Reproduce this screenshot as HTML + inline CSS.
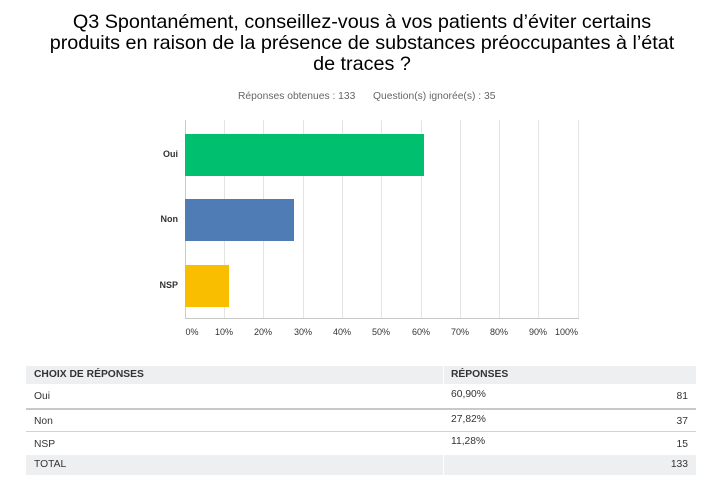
<!DOCTYPE html>
<html><head><meta charset="utf-8">
<style>
html,body{margin:0;padding:0;background:#fff;}
body{width:717px;height:487px;position:relative;overflow:hidden;font-family:"Liberation Sans",Arial,sans-serif;color:#333;}
.a{position:absolute;white-space:nowrap;}
.title{position:absolute;left:0;width:724px;top:12px;text-align:center;font-size:19.8px;line-height:21px;color:#000;}
.sub{font-size:10.3px;color:#666;top:91px;}
.grid{position:absolute;top:120px;width:1px;height:199px;background:#e3e3e3;}
.tick{position:absolute;top:327px;font-size:9px;color:#333;width:40px;text-align:center;}
.cat{position:absolute;font-size:9px;font-weight:bold;color:#333;width:40px;text-align:right;left:138px;}
.bar{position:absolute;left:185px;height:42px;}
.tt{position:absolute;font-size:10.3px;color:#333;}
</style></head><body>
<div class="title">Q3 Spontanément, conseillez-vous à vos patients d’éviter certains<br>produits en raison de la présence de substances préoccupantes à l’état<br>de traces ?</div>
<div class="a sub" style="left:238px;">Réponses obtenues : 133</div>
<div class="a sub" style="left:373px;">Question(s) ignorée(s) : 35</div>

<div class="grid" style="left:185px;background:#ccc"></div>
<div class="grid" style="left:224px"></div>
<div class="grid" style="left:263px"></div>
<div class="grid" style="left:303px"></div>
<div class="grid" style="left:342px"></div>
<div class="grid" style="left:381px"></div>
<div class="grid" style="left:421px"></div>
<div class="grid" style="left:460px"></div>
<div class="grid" style="left:499px"></div>
<div class="grid" style="left:538px"></div>
<div class="grid" style="left:578px"></div>
<div style="position:absolute;left:185px;top:318px;width:394px;height:1px;background:#c8c8c8"></div>

<div class="bar" style="top:134px;width:239px;background:#00bf6f"></div>
<div class="bar" style="top:199px;width:109px;background:#507cb6"></div>
<div class="bar" style="top:265px;width:44px;background:#f9be00"></div>

<div class="cat" style="top:149px">Oui</div>
<div class="cat" style="top:214px">Non</div>
<div class="cat" style="top:280px">NSP</div>

<div class="tick" style="left:172px">0%</div>
<div class="tick" style="left:204px">10%</div>
<div class="tick" style="left:243px">20%</div>
<div class="tick" style="left:283px">30%</div>
<div class="tick" style="left:322px">40%</div>
<div class="tick" style="left:361px">50%</div>
<div class="tick" style="left:401px">60%</div>
<div class="tick" style="left:440px">70%</div>
<div class="tick" style="left:479px">80%</div>
<div class="tick" style="left:518px">90%</div>
<div class="tick" style="left:538px;text-align:right">100%</div>

<!-- table -->
<div style="position:absolute;left:26px;top:366px;width:670px;height:18px;background:#eeeff0"></div>
<div style="position:absolute;left:443px;top:366px;width:1px;height:18px;background:#fff"></div>
<div style="position:absolute;left:26px;top:408px;width:670px;height:2px;background:#c9c9c9"></div>
<div style="position:absolute;left:26px;top:431px;width:670px;height:1px;background:#d2d2d2"></div>
<div style="position:absolute;left:26px;top:455px;width:670px;height:20px;background:#eeeff0"></div>
<div style="position:absolute;left:443px;top:455px;width:1px;height:20px;background:#fff"></div>

<div class="tt" style="left:34px;top:369px;font-weight:bold;">CHOIX DE RÉPONSES</div>
<div class="tt" style="left:451px;top:369px;font-weight:bold;">RÉPONSES</div>

<div class="tt" style="left:34px;top:391px;">Oui</div>
<div class="tt" style="left:451px;top:389px;">60,90%</div>
<div class="tt" style="left:600px;width:88px;text-align:right;top:391px;">81</div>

<div class="tt" style="left:34px;top:416px;">Non</div>
<div class="tt" style="left:451px;top:414px;">27,82%</div>
<div class="tt" style="left:600px;width:88px;text-align:right;top:416px;">37</div>

<div class="tt" style="left:34px;top:439px;">NSP</div>
<div class="tt" style="left:451px;top:436px;">11,28%</div>
<div class="tt" style="left:600px;width:88px;text-align:right;top:439px;">15</div>

<div class="tt" style="left:34px;top:459px;">TOTAL</div>
<div class="tt" style="left:600px;width:88px;text-align:right;top:459px;">133</div>
</body></html>
